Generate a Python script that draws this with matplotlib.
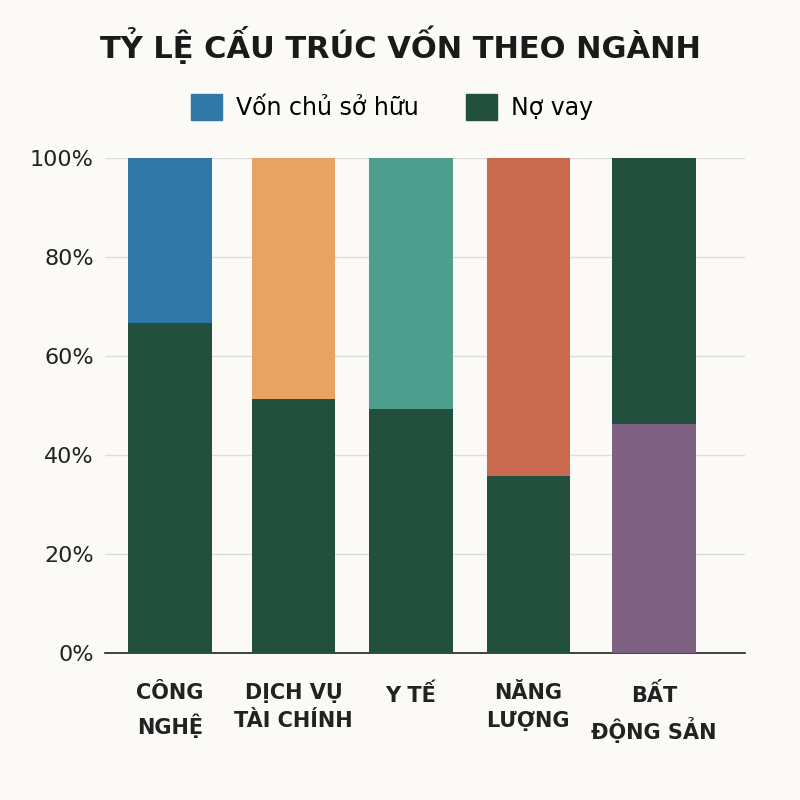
import matplotlib.pyplot as plt
import matplotlib.patches as mpatches
from matplotlib.ticker import FuncFormatter

# === DATA ===
categories = ["CÔNG\nNGHỆ", "DỊCH VỤ\nTÀI CHÍNH", "Y TẾ", "NĂNG\nLƯỢNG", "BẤT\nĐỘNG SẢN"]
bottom_vals = [66.7, 51.3, 49.3, 35.8, 46.3]
top_vals = [33.3, 48.7, 50.7, 64.2, 53.7]
bottom_colors = ["#234f3e", "#234f3e", "#234f3e", "#234f3e", "#7f6182"]
top_colors = ["#2e77a6", "#e8a263", "#4d9e8c", "#c96a4e", "#234f3e"]
x_pos = [0, 1.02, 1.99, 2.96, 4.0]

bg = "#fcfaf7"
plt.rcParams['font.family'] = ['DejaVu Sans']

fig = plt.figure(figsize=(8, 8), dpi=100, facecolor=bg)
ax = fig.add_axes([0.131, 0.184, 0.80, 0.619], facecolor=bg)

ax.bar(x_pos, bottom_vals, width=0.69, color=bottom_colors, zorder=3)
ax.bar(x_pos, top_vals, width=0.69, bottom=bottom_vals, color=top_colors, zorder=3)

ax.set_ylim(0, 100)
ax.set_xlim(-0.54, 4.75)
ax.set_yticks([0, 20, 40, 60, 80, 100])
ax.yaxis.set_major_formatter(FuncFormatter(lambda v, p: f"{int(v)}%"))
ax.grid(axis="y", color="#dddddd", linewidth=1, zorder=0)
for s in ["top", "right", "left"]:
    ax.spines[s].set_visible(False)
ax.spines["bottom"].set_color("#222222")
ax.spines["bottom"].set_linewidth(1.2)
ax.tick_params(axis="y", length=0, labelsize=16, colors="#222222", pad=8)
ax.tick_params(axis="x", length=0, pad=22)
ax.set_xticks(x_pos)
ax.set_xticklabels(categories, fontsize=15, fontweight="bold", color="#222222", linespacing=1.5)

fig.text(0.5, 0.944, "TỶ LỆ CẤU TRÚC VỐN THEO NGÀNH", ha="center", va="center",
         fontsize=22, fontweight="bold", color="#1a1a1a")

handles = [mpatches.Patch(color="#2e77a6", label="Vốn chủ sở hữu"),
           mpatches.Patch(color="#234f3e", label="Nợ vay")]
fig.legend(handles=handles, loc="center", bbox_to_anchor=(0.49, 0.866), ncol=2,
           frameon=False, fontsize=17, handlelength=1.3, handleheight=1.3,
           columnspacing=2.0, handletextpad=0.6)

plt.savefig("out.png", facecolor=bg)
